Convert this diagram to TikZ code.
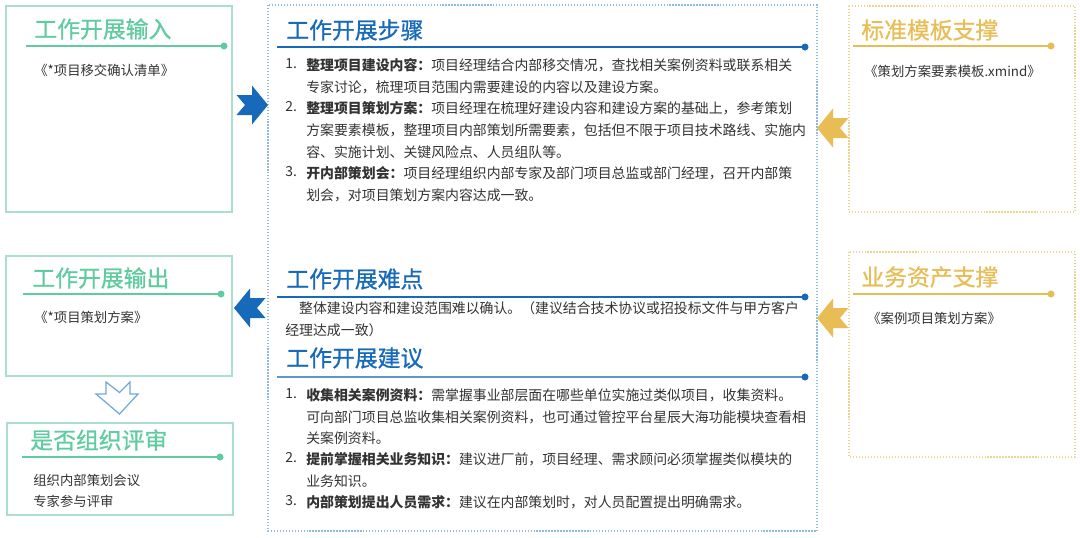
\documentclass[tikz,border=0pt]{standalone}
\usepackage{fontspec}
\setmainfont{Noto Sans CJK SC}
\newfontfamily\titlefont{Noto Sans CJK SC}[FakeBold=0.8]
\usepackage{tikz}

\definecolor{mint}{HTML}{5FCCA0}
\definecolor{mintedge}{HTML}{A9DFCC}
\definecolor{deepblue}{HTML}{1769BA}
\definecolor{paleblue}{HTML}{8EBBE3}
\definecolor{hollowblue}{HTML}{6FA8DC}
\definecolor{gold}{HTML}{E8BD55}
\definecolor{palegold}{HTML}{EDD493}
\definecolor{ink}{HTML}{333333}

\tikzset{
  greenbox/.style={draw=mintedge, line width=0.8pt},
  goldbox/.style={draw=palegold, densely dotted, line width=0.7pt},
  bluebox/.style={draw=paleblue, densely dotted, line width=0.7pt},
  boxtitle/.style={anchor=west, inner sep=0pt, font=\titlefont\fontsize{13}{15}\selectfont},
  smalltext/.style={anchor=west, inner sep=0pt, text=ink, font=\fontsize{7.6}{11}\selectfont},
  bodytext/.style={anchor=north west, inner sep=0pt, align=left, text=ink,
    font=\fontsize{7.9}{12.4}\selectfont},
  rule/.style={line width=1.2pt},
  notcharrow/.pic={\fill (-15.5,-10) -- (0,-10) -- (0,-19.5) -- (16,0) -- (0,19.5)
    -- (0,10) -- (-15.5,10) -- (-7,0) -- cycle;}
}

\begin{document}
\begin{tikzpicture}[x=0.02cm, y=-0.02cm]
  \useasboundingbox [fill=white] (0,0) rectangle (1080,538);

  \draw [greenbox] (6,6) rectangle (232,212);
  \node [boxtitle, text=mint] (inTitle) at (34,29) {工作开展输入};
  \draw [mint, rule] (26,46) coordinate (inL) -- (224,46) coordinate (inR);
  \fill [mint] (inR) circle [radius=3.5];
  \node [smalltext] (inText) at (34,70) {《*项目移交确认清单》};

  \draw [greenbox] (6,256) rectangle (232,376);
  \node [boxtitle, text=mint] (outTitle) at (32,278) {工作开展输出};
  \draw [mint, rule] (23,294) coordinate (outL) -- (221,294) coordinate (outR);
  \fill [mint] (outR) circle [radius=3.5];
  \node [smalltext] (outText) at (34,317) {《*项目策划方案》};

  \draw [hollowblue, fill=white, line width=0.7pt] (106,382) -- (119.5,392.5) -- (130,382)
    -- (130,394) -- (138,394) -- (119.5,414) -- (96,394) -- (106,394) -- cycle;

  \draw [greenbox] (7,423) rectangle (233,515);
  \node [boxtitle, text=mint] (revTitle) at (30,440) {是否组织评审};
  \draw [mint, rule] (22,457) coordinate (revL) -- (220,457) coordinate (revR);
  \fill [mint] (revR) circle [radius=3.5];
  \node [smalltext] (revA) at (33,480) {组织内部策划会议};
  \node [smalltext] (revB) at (33,501) {专家参与评审};

  \draw [bluebox] (268,5) rectangle (817,531);
  \node [boxtitle, text=deepblue] (stepTitle) at (286,30) {工作开展步骤};
  \draw [deepblue, rule] (277,47) coordinate (stepL) -- (805,47) coordinate (stepR);
  \fill [deepblue] (stepR) circle [radius=3.5];
  \node [bodytext] (n1) at (285,58.5) {1.};
  \node [bodytext] (s1) at (306,58.5) {{\bfseries 整理项目建设内容：}项目经理结合内部移交情况，查找相关案例资料或联系相关\\
    专家讨论，梳理项目范围内需要建设的内容以及建设方案。};
  \node [bodytext] (n2) at (285,101.5) {2.};
  \node [bodytext] (s2) at (306,101.5) {{\bfseries 整理项目策划方案：}项目经理在梳理好建设内容和建设方案的基础上，参考策划\\
    方案要素模板，整理项目内部策划所需要素，包括但不限于项目技术路线、实施内\\
    容、实施计划、关键风险点、人员组队等。};
  \node [bodytext] (n3) at (285,166) {3.};
  \node [bodytext] (s3) at (306,166) {{\bfseries 开内部策划会：}项目经理组织内部专家及部门项目总监或部门经理，召开内部策\\
    划会，对项目策划方案内容达成一致。};

  \node [boxtitle, text=deepblue] (hardTitle) at (286,279) {工作开展难点};
  \draw [deepblue, rule] (277,297) coordinate (hardL) -- (805,297) coordinate (hardR);
  \fill [deepblue] (hardR) circle [radius=3.5];
  \node [bodytext] (hard) at (285,301.5) {\hspace*{1em}整体建设内容和建设范围难以确认。（建议结合技术协议或招投标文件与甲方客户\\
    经理达成一致）};

  \node [boxtitle, text=deepblue] (ideaTitle) at (286,358) {工作开展建议};
  \draw [deepblue!70, rule] (277,377) coordinate (ideaL) -- (805,377) coordinate (ideaR);
  \fill [deepblue] (ideaR) circle [radius=3.5];
  \node [bodytext] (m1) at (285,388) {1.};
  \node [bodytext] (t1) at (306,388) {{\bfseries 收集相关案例资料：}需掌握事业部层面在哪些单位实施过类似项目，收集资料。\\
    可向部门项目总监收集相关案例资料，也可通过管控平台星辰大海功能模块查看相\\
    关案例资料。};
  \node [bodytext] (m2) at (285,452.5) {2.};
  \node [bodytext] (t2) at (306,452.5) {{\bfseries 提前掌握相关业务知识：}建议进厂前，项目经理、需求顾问必须掌握类似模块的\\
    业务知识。};
  \node [bodytext] (m3) at (285,495.5) {3.};
  \node [bodytext] (t3) at (306,495.5) {{\bfseries 内部策划提出人员需求：}建议在内部策划时，对人员配置提出明确需求。};

  \draw [goldbox] (849,6) rectangle (1075,212);
  \node [boxtitle, text=gold] (tplTitle) at (861,30) {标准模板支撑};
  \draw [gold, rule] (853,46) coordinate (tplL) -- (1051,46) coordinate (tplR);
  \fill [gold] (tplR) circle [radius=3.5];
  \node [smalltext] (tplText) at (864,71) {《策划方案要素模板.xmind》};

  \draw [goldbox] (849,252) rectangle (1075,457);
  \node [boxtitle, text=gold] (assetTitle) at (861,277) {业务资产支撑};
  \draw [gold, rule] (853,294) coordinate (assetL) -- (1051,294) coordinate (assetR);
  \fill [gold] (assetR) circle [radius=3.5];
  \node [smalltext] (assetText) at (867,318) {《案例项目策划方案》};

  \pic [deepblue] at (252,105) {notcharrow};
  \pic [deepblue, xscale=-1] at (250,308) {notcharrow};
  \pic [gold, xscale=-1] at (833,128) {notcharrow};
  \pic [gold, xscale=-1] at (833,318) {notcharrow};
\end{tikzpicture}
\end{document}
